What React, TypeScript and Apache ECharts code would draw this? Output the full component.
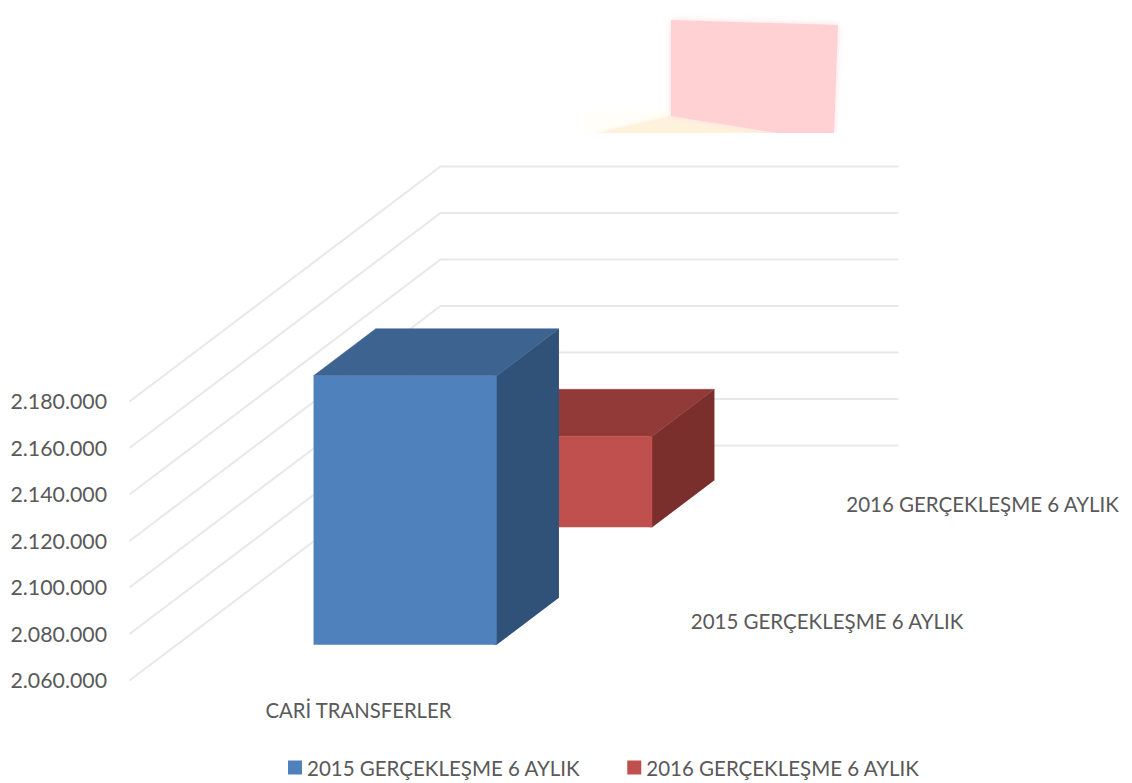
import React, { useEffect, useRef } from "react";
import * as echarts from "echarts";

const categories = ["CARİ TRANSFERLER"];
const seriesNames = ["2015 GERÇEKLEŞME 6 AYLIK", "2016 GERÇEKLEŞME 6 AYLIK"];
const values2015 = [2175700];
const values2016 = [2099100];
const yTicks = [2060000, 2080000, 2100000, 2120000, 2140000, 2160000, 2180000];

const FONT = "Lato";
const TEXT = "#595959";
// oblique projection of the depth axis, in pixels
const DEPTH_X = 311;
const DEPTH_Y = -235;
const BAR_DEPTH = 0.4; // share of a depth slot
const SLOTS = seriesNames.length;

const fmt = (v: number) => String(v).replace(/\B(?=(\d{3})+$)/g, ".");

function gridRender(_p: any, api: any) {
  const c = api.coord([0, api.value(1)]);
  const w = api.size([1, 0])[0];
  const x0 = c[0] - w / 2;
  const y0 = c[1] + 0.5;
  return {
    type: "polyline",
    shape: {
      points: [
        [x0, y0],
        [x0 + DEPTH_X, y0 + DEPTH_Y],
        [x0 + DEPTH_X + w, y0 + DEPTH_Y],
      ],
    },
    style: { stroke: "#E8E8E8", lineWidth: 2, fill: "none" },
  };
}

function barRender(slot: number, front: string, top: string, side: string, name: string) {
  return (_p: any, api: any) => {
    const c = api.coord([0, api.value(1)]);
    const base = api.coord([0, yTicks[0]]);
    const band = api.size([1, 0])[0];
    const bw = band * 0.4;
    const start = (slot + 0.5 - BAR_DEPTH / 2) / SLOTS;
    const sx = DEPTH_X * start;
    const sy = DEPTH_Y * start;
    const dx = (DEPTH_X * BAR_DEPTH) / SLOTS;
    const dy = (DEPTH_Y * BAR_DEPTH) / SLOTS;
    const l = c[0] - bw / 2 + sx;
    const r = l + bw;
    const t = c[1] + sy;
    const b = base[1] + sy;
    const centre = (slot + 0.5) / SLOTS;
    return {
      type: "group",
      children: [
        {
          type: "polygon",
          shape: { points: [[l, t], [r, t], [r + dx, t + dy], [l + dx, t + dy]] },
          style: { fill: top, stroke: top, lineWidth: 0.5 },
        },
        {
          type: "polygon",
          shape: { points: [[r - 3, t], [r, t], [r + dx, t + dy], [r + dx, b + dy], [r, b], [r - 3, b]] },
          style: { fill: side },
        },
        {
          type: "rect",
          shape: { x: l, y: t, width: bw, height: b - t },
          style: { fill: front },
        },
        {
          type: "text",
          x: c[0] + band / 2 + 25.5 + DEPTH_X * centre,
          y: base[1] + DEPTH_Y * centre,
          style: {
            text: name,
            fill: TEXT,
            font: `20.5px ${FONT}`,
            align: "left",
            verticalAlign: "middle",
          },
        },
      ],
    };
  };
}

const artifact = [
  {
    type: "polygon",
    silent: true,
    shape: { points: [[585, 112], [672, 112], [672, 133], [585, 133]] },
    style: { fill: "#FFFEF8", shadowBlur: 8, shadowColor: "#FFFEF4" },
  },
  {
    type: "polygon",
    silent: true,
    shape: { points: [[597, 133], [671, 116], [780, 133]] },
    style: { fill: "#FFF2DC", shadowBlur: 4, shadowColor: "#FFF2DC" },
  },
  {
    type: "polygon",
    silent: true,
    shape: { points: [[671, 20], [838, 25], [834, 133], [777, 133], [671, 116]] },
    style: { fill: "#FFD1D3", shadowBlur: 7, shadowColor: "#FFDDE3" },
  },
  {
    type: "rect",
    silent: true,
    shape: { x: 560, y: 133, width: 310, height: 28 },
    style: { fill: "#FFFFFF" },
  },
];

export default function App() {
  const ref = useRef<HTMLDivElement>(null);
  useEffect(() => {
    document.body.style.margin = "0";
    const chart = echarts.init(ref.current!, undefined, { renderer: "svg" });
    chart.setOption({
      animation: false,
      backgroundColor: "#FFFFFF",
      grid: { left: 129.5, top: 401, width: 458, height: 279, containLabel: false },
      xAxis: {
        type: "category",
        data: categories,
        axisLine: { show: false },
        axisTick: { show: false },
        axisLabel: { color: TEXT, fontFamily: FONT, fontSize: 20.3, margin: 20 },
      },
      yAxis: {
        type: "value",
        min: yTicks[0],
        max: yTicks[yTicks.length - 1],
        interval: 20000,
        axisLine: { show: false },
        axisTick: { show: false },
        splitLine: { show: false },
        axisLabel: {
          color: TEXT,
          fontFamily: FONT,
          fontSize: 21.3,
          margin: 22.5,
          padding: [4, 0, 0, 0],
          formatter: (v: number) => fmt(v),
        },
      },
      legend: {
        data: seriesNames,
        left: 283,
        top: 752,
        itemWidth: 14,
        itemHeight: 14,
        itemGap: 47,
        icon: "rect",
        textStyle: { color: TEXT, fontFamily: FONT, fontSize: 20.5 },
      },
      graphic: { elements: artifact },
      series: [
        {
          name: "grid",
          type: "custom",
          renderItem: gridRender,
          data: yTicks.map((t) => [0, t]),
          encode: { x: 0, y: 1 },
          z: 1,
          silent: true,
        },
        {
          name: seriesNames[1],
          type: "custom",
          renderItem: barRender(1, "#C0504D", "#913A38", "#7B2F2D", seriesNames[1]),
          data: values2016.map((v, i) => [i, v]),
          encode: { x: 0, y: 1 },
          itemStyle: { color: "#C0504D" },
          z: 2,
        },
        {
          name: seriesNames[0],
          type: "custom",
          renderItem: barRender(0, "#4F81BD", "#3D6390", "#305178", seriesNames[0]),
          data: values2015.map((v, i) => [i, v]),
          encode: { x: 0, y: 1 },
          itemStyle: { color: "#4F81BD" },
          z: 3,
        },
      ],
    });
    return () => chart.dispose();
  }, []);
  return <div ref={ref} style={{ width: 1132, height: 783, overflow: "hidden" }} />;
}
